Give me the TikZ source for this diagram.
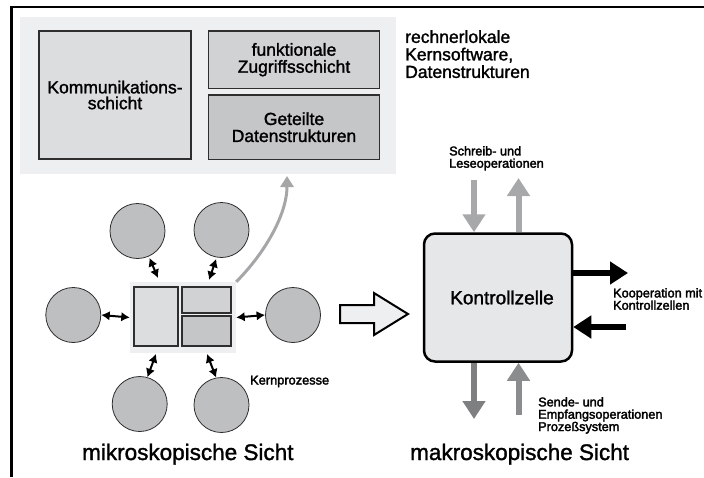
\documentclass[tikz,border=0pt]{standalone}
\usepackage{fontspec}
\setmainfont{Liberation Sans}[FakeBold=1.5]
\newfontfamily\labelfont{Liberation Sans}[FakeBold=2.4]
\usetikzlibrary{arrows.meta,calc}
\definecolor{panelbg}{HTML}{EEEFF1}
\definecolor{boxA}{HTML}{DCDDDF}
\definecolor{boxB}{HTML}{D1D2D4}
\definecolor{boxC}{HTML}{C5C6C8}
\definecolor{proc}{HTML}{BEBFC1}
\definecolor{cellbg}{HTML}{E6E7E9}
\definecolor{lightarrow}{HTML}{A7A8AA}
\definecolor{darkarrow}{HTML}{7E7F81}
\definecolor{midarrow}{HTML}{8B8C8E}
\definecolor{curvearrow}{HTML}{A5A6A8}
\definecolor{edge}{HTML}{2E2E2E}
\begin{document}
\begin{tikzpicture}[x=1pt,y=-1pt,
  layerbox/.style={draw=edge, line width=1.4pt, inner sep=0pt, align=center,
    font=\fontsize{17.5}{17}\selectfont},
  minibox/.style={draw=edge, line width=1.4pt, inner sep=0pt},
  proccircle/.style={circle, draw=edge, line width=0.8pt, fill=proc, minimum size=55pt, inner sep=0pt},
  dbl/.style={line width=2pt, {Latex[length=8.5pt,width=9.5pt]}-{Latex[length=8.5pt,width=9.5pt]}},
  blockarrow/.style={line width=6pt, -{Triangle[width=22pt,length=18pt]}},
  smalllabel/.style={anchor=north west, inner sep=0pt, align=left, font=\labelfont\fontsize{12.7}{12.3}\selectfont},
  caption/.style={anchor=base west, inner sep=0pt, font=\fontsize{22.5}{24}\selectfont}
]
\useasboundingbox (0,0) rectangle (704,477);

% frame lines along the top and the left side
\coordinate (frameTL) at (11.5,7.3);
\coordinate (frameTR) at (704,7.3);
\coordinate (frameBL) at (11.5,477);
\draw[line width=2.3pt] (frameTR) -- (frameTL) -- (frameBL);

% node-local core software and data structures
\node[fill=panelbg, inner sep=0pt, minimum width=376pt, minimum height=157pt] (panel) at (208,95.5) {};
\node[layerbox, fill=boxA, minimum width=152pt, minimum height=128pt] (komm) at (115,95)
  {\raisebox{-3pt}{\shortstack{Kommunikations-\\schicht}}};
\node[layerbox, fill=boxB, minimum width=170.6pt, minimum height=57.3pt] (zug) at (294,59.7)
  {funktionale\\Zugriffsschicht};
\node[layerbox, fill=boxC, minimum width=170.6pt, minimum height=64.3pt] (dat) at (294,127.2)
  {Geteilte\\Datenstrukturen};
\node[anchor=north west, inner sep=0pt, align=left, font=\fontsize{17.5}{17.5}\selectfont] (rk) at (405,30)
  {rechnerlokale\\Kernsoftware,\\Datenstrukturen};

% microscopic view: kernel in the middle, processes around it
\node[fill=panelbg, inner sep=0pt, minimum width=106pt, minimum height=71pt] (core) at (183,317.5) {};
\node[minibox, fill=boxA, minimum width=44pt, minimum height=59pt] (coreK) at (156,316.5) {};
\node[minibox, fill=boxB, minimum width=49pt, minimum height=26pt] (coreZ) at (206.5,300) {};
\node[minibox, fill=boxC, minimum width=49pt, minimum height=30pt] (coreD) at (206.5,331) {};

\node[proccircle] (ptl) at (137.5,231) {};
\node[proccircle] (ptr) at (221.5,230) {};
\node[proccircle] (pl)  at (73.3,315) {};
\node[proccircle] (pr)  at (293,315) {};
\node[proccircle] (pbl) at (139.7,404) {};
\node[proccircle] (pbr) at (221.5,405) {};

\coordinate (atl) at (158,278);
\coordinate (atr) at (209,280);
\coordinate (abl) at (156,354);
\coordinate (abr) at (207,354);
\draw[dbl, shorten <=1.5pt] (ptl.-66) -- (atl);
\draw[dbl, shorten <=1.5pt] (ptr.-100) -- (atr);
\draw[dbl] (pl.east) -- (core.west);
\draw[dbl] (core.east) -- (pr.west);
\draw[dbl] (abl) -- (pbl.74);
\draw[dbl] (abr) -- (pbr.101);

% grey arrow from the kernel up to the detailed layers
\coordinate (upend) at (287,176);
\draw[curvearrow, line width=3pt, -{Triangle[width=13pt,length=11pt]}]
  (core.north east) .. controls (264,254) and (287,215) .. (upend);

\node[anchor=base west, inner sep=0pt, font=\labelfont\fontsize{12.8}{13}\selectfont] (kp) at (250,384.5) {Kernprozesse};

% hollow transition arrow
\draw[line width=2pt, fill=panelbg, line join=miter]
  (340,305) -- (374,305) -- (374,293) -- (408,314) -- (374,335) -- (374,323) -- (340,323) -- cycle;

% macroscopic view: control cell with its interfaces
\node[draw=black, line width=2.5pt, fill=cellbg, rounded corners=11pt, minimum width=148pt, minimum height=128pt,
  inner sep=0pt, font=\fontsize{19}{20}\selectfont] (cell) at (498,297.5) {\hspace*{8pt}Kontrollzelle};

\coordinate (rwTop) at (474,180);
\coordinate (rwUp) at (518.5,178);
\draw[blockarrow, lightarrow] (rwTop) -- (rwTop |- cell.north);
\draw[blockarrow, lightarrow] (rwUp |- cell.north) -- (rwUp);
\node[smalllabel] (rwl) at (449,146) {Schreib- und\\Leseoperationen};

\coordinate (coOut) at (628,273);
\coordinate (coIn) at (626,327);
\draw[blockarrow, black] (cell.east |- coOut) -- (coOut);
\draw[blockarrow, black] (coIn) -- (cell.east |- coIn);
\node[smalllabel] (col) at (613,288) {Kooperation mit\\Kontrollzellen};

\coordinate (seDown) at (474,419);
\coordinate (seUp) at (518.5,415);
\draw[blockarrow, darkarrow] (seDown |- cell.south) -- (seDown);
\draw[blockarrow, midarrow] (seUp) -- (seUp |- cell.south);
\node[smalllabel] (sel) at (538,397) {Sende- und\\Empfangsoperationen\\Prozeßsystem};

% captions
\node[caption] (mikro) at (82,460) {mikroskopische Sicht};
\node[caption] (makro) at (410,460) {makroskopische Sicht};
\end{tikzpicture}
\end{document}
